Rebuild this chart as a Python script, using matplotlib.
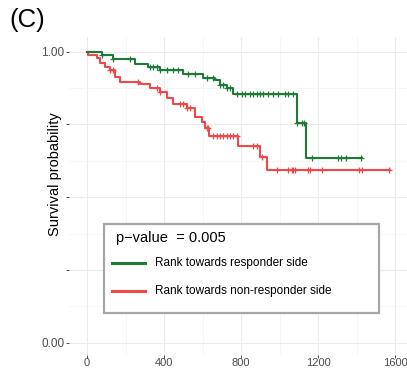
import matplotlib
matplotlib.use("Agg")
import matplotlib.pyplot as plt
from matplotlib.patches import Rectangle
from matplotlib.lines import Line2D
import numpy as np

plt.rcParams['font.family'] = ['Liberation Sans', 'DejaVu Sans']

# ---- data ----
green_times = [0, 76, 137, 249, 319, 379, 500, 604, 665, 691, 726, 757, 1089, 1138, 1427]
green_surv = [1.0, 0.99, 0.975, 0.958, 0.948, 0.937, 0.922, 0.911, 0.903, 0.886, 0.874, 0.855, 0.756, 0.634, 0.634]
green_censor = [76, 137, 223, 327, 345, 362, 379, 414, 449, 475, 527, 561, 622, 656, 691, 708,
                726, 743, 778, 803, 821, 847, 864, 881, 899, 916, 942, 968, 994, 1029, 1046,
                1072, 1089, 1115, 1127, 1167, 1306, 1318, 1345, 1422]

red_times = [0, 7, 50, 68, 94, 120, 146, 172, 275, 327, 379, 414, 449, 518, 561, 596, 613, 634,
             786, 899, 937, 1574]
red_surv = [1.0, 0.989, 0.977, 0.96, 0.948, 0.937, 0.912, 0.897, 0.888, 0.874, 0.863, 0.84,
            0.819, 0.805, 0.777, 0.76, 0.737, 0.71, 0.676, 0.639, 0.593, 0.593]
red_censor = [120, 137, 266, 362, 379, 483, 500, 518, 535, 622, 631, 656, 674, 691, 708, 726,
              743, 760, 778, 864, 881, 907, 985, 1046, 1063, 1072, 1081, 1148, 1158, 1219,
              1411, 1428, 1567]

x_ticks = [0, 400, 800, 1200, 1600]
y_ticks = [0.0, 0.25, 0.5, 0.75, 1.0]
y_ticklabels = ['0.00', '', '', '', '1.00']

series_labels = ['Rank towards responder side', 'Rank towards non-responder side']
pvalue_text = 'p\u2212value  = 0.005'
panel_title = '(C)'
y_label = 'Survival probability'

green_col = '#1F7A3A'
red_col = '#F04848'

W, H = 407, 369
fig = plt.figure(figsize=(W / 100, H / 100), dpi=100)
ax = fig.add_axes([69 / W, (H - 355) / H, 338 / W, 318 / H])
ax.set_xlim(-93.5, 1662)
ax.set_ylim(-0.042, 1.0505)


def surv_at(times, surv, t):
    idx = np.searchsorted(times, t, side='right') - 1
    return np.asarray(surv)[idx]


for times, surv, cens, col in [(red_times, red_surv, red_censor, red_col),
                               (green_times, green_surv, green_censor, green_col)]:
    ax.step(times, surv, where='post', color=col, lw=1.5, zorder=3)
    ax.plot(cens, surv_at(times, surv, cens), ls='none', marker='+', ms=4.5,
            mew=0.9, color=col, zorder=3)

# grid
ax.set_xticks(x_ticks)
ax.set_xticks([200, 600, 1000, 1400], minor=True)
ax.set_yticks(y_ticks)
ax.set_yticks([0.125, 0.375, 0.625, 0.875], minor=True)
ax.set_yticklabels(y_ticklabels)
ax.grid(True, which='major', color='#EBEBEB', lw=0.8)
ax.grid(True, which='minor', color='#F3F3F3', lw=0.5)
ax.set_axisbelow(True)
for s in ax.spines.values():
    s.set_visible(False)
ax.tick_params(which='major', length=2.5, width=0.6, color='#333333',
               labelcolor='#4D4D4D', labelsize=8.5, pad=1)
ax.tick_params(axis='x', which='major', labelsize=8, pad=0)
ax.tick_params(which='minor', length=0)

fig.text(55 / W, 1 - 174 / H, y_label, rotation=90, ha='center', va='center',
         fontsize=10.5, color='black')
fig.text(9 / W, 1 - 20 / H, panel_title, ha='left', va='center', fontsize=18.5)

# legend box
x0, x1, y0, y1 = 104, 379, 224, 313
fig.patches.append(Rectangle((x0 / W, 1 - y1 / H), (x1 - x0) / W, (y1 - y0) / H,
                             transform=fig.transFigure, facecolor='white',
                             edgecolor='#A6A6A6', lw=1.6, zorder=5))
fig.text(116 / W, 1 - 238 / H, pvalue_text, ha='left', va='center', fontsize=10.5, zorder=6)
for ly, col, lab in [(263.3, green_col, series_labels[0]), (290.7, red_col, series_labels[1])]:
    fig.lines.append(Line2D([111.7 / W, 145 / W], [1 - ly / H, 1 - ly / H],
                            transform=fig.transFigure, color=col, lw=2.2, zorder=6))
    fig.text(155 / W, 1 - ly / H, lab, ha='left', va='center', fontsize=8.5, zorder=6)

fig.savefig('out.png', dpi=100)
